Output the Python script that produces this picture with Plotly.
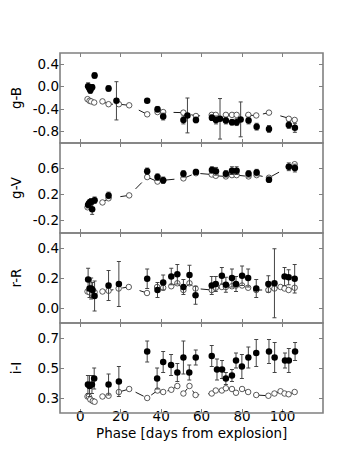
import plotly.graph_objects as go
from plotly.subplots import make_subplots

# ---- g-B ------------------------------------------------------------------
gB_days = [3.9, 4.6, 5.0, 5.9, 7.1, 14.0, 17.9, 33.1, 38.2, 41.0, 51.0, 53.0, 57.2,
           65.1, 67.1, 69.1, 72.0, 75.0, 77.3, 79.3, 83.2, 87.2, 93.3, 103.1, 106.1]
gB_val = [0.01, -0.03, -0.06, -0.01, 0.20, -0.03, -0.25, -0.25, -0.40, -0.53, -0.59, -0.51, -0.59,
          -0.55, -0.59, -0.57, -0.60, -0.63, -0.63, -0.58, -0.60, -0.71, -0.75, -0.68, -0.73]
gB_err = [0.06, 0.05, 0.06, 0.05, 0.05, 0.05, 0.34, 0.03, 0.05, 0.06, 0.07, 0.31, 0.05,
          0.05, 0.07, 0.36, 0.06, 0.05, 0.06, 0.31, 0.06, 0.06, 0.06, 0.06, 0.08]
gB_open_days = [3.6, 4.6, 5.4, 6.9, 11.0, 14.0, 19.1, 24.2, 33.1, 38.2, 41.0, 51.0, 57.2,
                65.0, 67.0, 72.0, 75.0, 77.3, 83.1, 87.0, 93.3, 103.1, 106.0]
gB_open = [-0.22, -0.25, -0.26, -0.28, -0.26, -0.31, -0.31, -0.33, -0.49, -0.45, -0.45, -0.46, -0.52,
           -0.50, -0.50, -0.50, -0.50, -0.50, -0.50, -0.51, -0.46, -0.57, -0.59]

# ---- g-V ------------------------------------------------------------------
gV_days = [3.9, 4.6, 5.3, 5.9, 7.1, 14.0, 33.1, 38.2, 41.0, 51.0, 57.2, 65.1, 67.1,
           72.0, 75.0, 77.3, 83.2, 87.2, 93.3, 103.1, 106.1]
gV_val = [0.04, 0.07, 0.085, -0.03, 0.11, 0.185, 0.56, 0.47, 0.42, 0.52, 0.55, 0.58, 0.56,
          0.52, 0.57, 0.57, 0.52, 0.54, 0.43, 0.63, 0.61]
gV_err = [0.05, 0.05, 0.05, 0.08, 0.05, 0.05, 0.05, 0.05, 0.05, 0.05, 0.04, 0.05, 0.06,
          0.05, 0.06, 0.06, 0.05, 0.05, 0.04, 0.06, 0.06]
gV_open_days = [3.6, 4.3, 5.3, 11.0, 14.0, 24.2, 33.1, 38.2, 41.0, 51.0, 57.2, 65.0, 67.0,
                72.0, 75.0, 77.3, 83.2, 87.2, 93.3, 103.1, 106.0]
gV_open = [0.00, 0.03, 0.06, 0.075, 0.14, 0.185, 0.47, 0.40, 0.42, 0.45, 0.53, 0.51, 0.49,
           0.48, 0.50, 0.50, 0.48, 0.50, 0.46, 0.63, 0.67]

# ---- r-R ------------------------------------------------------------------
rR_days = [3.9, 4.6, 5.4, 6.1, 7.1, 14.0, 19.1, 33.1, 38.2, 41.0, 45.0, 48.0, 51.0, 54.0,
           57.0, 65.0, 67.0, 70.0, 72.0, 75.0, 77.0, 80.0, 83.0, 87.0, 93.0, 96.0,
           101.0, 103.0, 106.0]
rR_val = [0.19, 0.13, 0.13, 0.12, 0.08, 0.15, 0.16, 0.195, 0.12, 0.17, 0.21, 0.225, 0.14, 0.22,
          0.085, 0.15, 0.16, 0.215, 0.155, 0.20, 0.16, 0.215, 0.20, 0.13, 0.16, 0.165,
          0.21, 0.205, 0.195]
rR_err = [0.075, 0.06, 0.07, 0.05, 0.10, 0.10, 0.15, 0.065, 0.05, 0.05, 0.055, 0.065, 0.05, 0.065,
          0.06, 0.06, 0.05, 0.055, 0.05, 0.06, 0.05, 0.065, 0.06, 0.06, 0.055, 0.23,
          0.06, 0.05, 0.095]
rR_open_days = [3.6, 4.6, 5.9, 7.1, 11.0, 14.0, 19.0, 24.0, 33.0, 38.0, 41.0, 45.0, 48.0, 51.0,
                54.0, 57.0, 65.0, 67.0, 70.0, 72.0, 75.0, 77.0, 80.0, 83.0, 87.0, 93.0, 96.0,
                99.0, 101.0, 103.0, 106.0]
rR_open = [0.11, 0.105, 0.095, 0.105, 0.11, 0.115, 0.13, 0.14, 0.10, 0.14, 0.135, 0.145, 0.165, 0.12,
           0.165, 0.13, 0.12, 0.135, 0.14, 0.14, 0.145, 0.15, 0.15, 0.135, 0.12, 0.12, 0.13,
           0.14, 0.13, 0.12, 0.135]

# ---- i-I ------------------------------------------------------------------
iI_days = [3.8, 4.6, 5.8, 6.9, 14.0, 19.1, 33.1, 38.0, 41.0, 44.9, 48.0, 51.0, 53.9, 57.1,
           65.0, 67.6, 70.1, 72.0, 75.0, 77.0, 79.9, 83.1, 87.0, 93.3, 96.1, 101.2, 103.1, 106.2]
iI_val = [0.39, 0.38, 0.39, 0.43, 0.39, 0.41, 0.61, 0.43, 0.54, 0.52, 0.47, 0.57, 0.47, 0.57,
          0.58, 0.49, 0.49, 0.43, 0.45, 0.55, 0.51, 0.57, 0.60, 0.61, 0.57, 0.55, 0.55, 0.61]
iI_err = [0.06, 0.07, 0.06, 0.07, 0.07, 0.10, 0.07, 0.07, 0.07, 0.07, 0.06, 0.11, 0.05, 0.05,
          0.07, 0.07, 0.06, 0.04, 0.04, 0.05, 0.08, 0.07, 0.09, 0.08, 0.10, 0.05, 0.08, 0.06]
iI_open_days = [3.6, 4.3, 5.0, 6.2, 7.1, 11.0, 14.0, 19.1, 24.2, 33.1, 38.2, 41.0, 45.0, 48.0,
                51.0, 54.0, 57.0, 65.0, 67.0, 70.0, 72.0, 75.0, 77.0, 80.0, 83.0, 87.0, 93.0,
                96.0, 99.0, 101.0, 103.0, 106.0]
iI_open = [0.31, 0.31, 0.29, 0.28, 0.275, 0.31, 0.315, 0.34, 0.36, 0.30, 0.35, 0.34, 0.355, 0.38,
           0.33, 0.38, 0.32, 0.33, 0.35, 0.35, 0.365, 0.36, 0.335, 0.36, 0.34, 0.32, 0.315,
           0.33, 0.345, 0.33, 0.325, 0.34]

# ---- axes -----------------------------------------------------------------
panels = [
    ("g-B", gB_days, gB_val, gB_err, gB_open_days, gB_open, [-1.0, 0.6], [0.4, 0.0, -0.4, -0.8]),
    ("g-V", gV_days, gV_val, gV_err, gV_open_days, gV_open, [-0.4, 1.0], [0.6, 0.2, -0.2]),
    ("r-R", rR_days, rR_val, rR_err, rR_open_days, rR_open, [-0.1, 0.5], [0.4, 0.2, 0.0]),
    ("i-I", iI_days, iI_val, iI_err, iI_open_days, iI_open, [0.2, 0.8], [0.7, 0.5, 0.3]),
]
x_ticks = [0, 20, 40, 60, 80, 100]
x_title = "Phase [days from explosion]"

FONT = "DejaVu Sans"
FS = 13.5
FRAME = "#808080"

fig = make_subplots(rows=4, cols=1, shared_xaxes=True, vertical_spacing=0)

for i, (label, d, v, e, od, ov, yr, yt) in enumerate(panels, start=1):
    fig.add_trace(go.Scatter(
        x=od, y=ov, mode="lines+markers",
        line=dict(color="black", width=0.9, dash="dash"),
        marker=dict(size=5.5, color="white", line=dict(color="#333", width=0.8)),
        error_y=dict(type="constant", value=0.008, color="#666", thickness=0.7, width=2),
        showlegend=False), row=i, col=1)
    fig.add_trace(go.Scatter(
        x=d, y=v, mode="markers",
        marker=dict(size=6.5, color="black"),
        error_y=dict(array=e, color="#444", thickness=1, width=2),
        showlegend=False), row=i, col=1)
    fig.update_yaxes(
        range=yr, tickvals=yt, ticktext=[f"{t:.1f}" for t in yt], automargin=False,
        title=dict(text=label, font=dict(size=FS, family=FONT, color="black")),
        showline=False, mirror="ticks",
        ticks="inside", ticklen=4, tickcolor=FRAME, showgrid=False, zeroline=False,
        tickfont=dict(size=FS, family=FONT, color="black"), row=i, col=1)
    fig.update_xaxes(
        range=[-10, 120], tickvals=x_ticks, automargin=False, ticklabelstandoff=-7,
        showline=False, mirror="allticks",
        ticks="inside", ticklen=4, tickcolor=FRAME, showgrid=False, zeroline=False,
        tickfont=dict(size=FS, family=FONT, color="black"), row=i, col=1)
    xn = "x" if i == 1 else f"x{i}"
    yn = "y" if i == 1 else f"y{i}"
    fig.add_shape(type="rect", xref=f"{xn} domain", yref=f"{yn} domain",
                  x0=0, x1=1, y0=0, y1=1, line=dict(color=FRAME, width=1.6),
                  fillcolor="rgba(0,0,0,0)", layer="above")

# x-axis title as an annotation just under the tick labels
fig.add_annotation(text=x_title, xref="paper", yref="paper", x=0.5, y=-0.055,
                   xanchor="center", yanchor="middle", showarrow=False,
                   font=dict(size=FS, family=FONT, color="black"))

fig.update_layout(
    width=350, height=450,
    margin=dict(l=52, r=35, t=45, b=45, autoexpand=False),
    plot_bgcolor="white", paper_bgcolor="white",
    font=dict(family=FONT, size=FS, color="black"),
)

fig.write_html("out.html")
